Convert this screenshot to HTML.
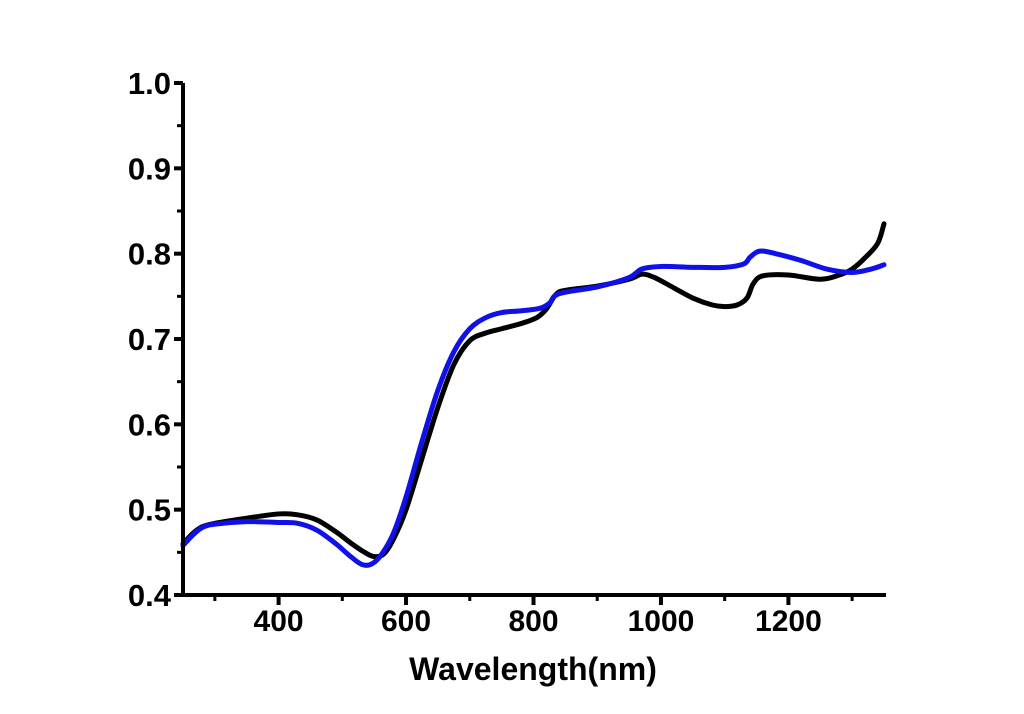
<!DOCTYPE html>
<html><head><meta charset="utf-8"><style>
html,body{margin:0;padding:0;background:#fff;}
svg{display:block;font-family:"Liberation Sans",Arial,sans-serif;}
</style></head><body>
<svg id="chart" width="1024" height="714" viewBox="0 0 1024 714">
<g id="plot"></g>
</svg>
<script>
const xTicks=[400,600,800,1000,1200];
const xMinorTicks=[300,500,700,900,1100,1300];
const yTicks=[0.4,0.5,0.6,0.7,0.8,0.9,1.0];
const yMinorTicks=[0.45,0.55,0.65,0.75,0.85,0.95];
const blackX=[250,265,280,300,350,400,430,460,490,515,535,550,565,580,600,625,650,675,700,725,750,780,805,820,835,850,900,950,970,990,1020,1050,1080,1100,1120,1135,1145,1160,1200,1250,1280,1300,1320,1340,1350];
const blackY=[0.46,0.472,0.48,0.484,0.49,0.495,0.494,0.488,0.474,0.46,0.45,0.445,0.448,0.465,0.5,0.56,0.62,0.67,0.698,0.707,0.712,0.718,0.725,0.735,0.752,0.757,0.762,0.77,0.776,0.772,0.76,0.748,0.74,0.738,0.74,0.748,0.765,0.774,0.775,0.77,0.775,0.782,0.795,0.812,0.835];
const blueX=[250,265,280,300,350,400,430,460,490,510,530,545,560,580,600,625,650,675,700,725,750,780,810,825,840,900,950,970,1000,1050,1100,1130,1140,1155,1180,1220,1260,1300,1330,1350];
const blueY=[0.458,0.47,0.479,0.483,0.486,0.485,0.484,0.476,0.46,0.447,0.436,0.436,0.446,0.472,0.515,0.58,0.64,0.685,0.712,0.725,0.731,0.733,0.736,0.742,0.753,0.761,0.772,0.782,0.785,0.784,0.784,0.788,0.796,0.803,0.8,0.792,0.782,0.778,0.782,0.787];

const NS='http://www.w3.org/2000/svg';
const L=183,R=884,T=83,B=595,X0=250,X1=1350,Y0=0.4,Y1=1.0;
const sx=v=>L+(v-X0)/(X1-X0)*(R-L);
const sy=v=>B-(v-Y0)/(Y1-Y0)*(B-T);
const g=document.getElementById('plot');
function mk(tag,attrs){const e=document.createElementNS(NS,tag);for(const k in attrs)e.setAttribute(k,attrs[k]);g.appendChild(e);return e;}

function smoothPath(xs,ys){
  const p=xs.map((x,i)=>[sx(x),sy(ys[i])]);
  let d='M'+p[0][0]+','+p[0][1];
  for(let i=0;i<p.length-1;i++){
    const p0=p[Math.max(0,i-1)],p1=p[i],p2=p[i+1],p3=p[Math.min(p.length-1,i+2)];
    const c1=[p1[0]+(p2[0]-p0[0])/6,p1[1]+(p2[1]-p0[1])/6];
    const c2=[p2[0]-(p3[0]-p1[0])/6,p2[1]-(p3[1]-p1[1])/6];
    d+=' C'+c1[0]+','+c1[1]+' '+c2[0]+','+c2[1]+' '+p2[0]+','+p2[1];
  }
  return d;
}
function series(xs,ys,color,name){
  const p=mk('path',{d:smoothPath(xs,ys),fill:'none',stroke:color,'stroke-width':5,'stroke-linejoin':'round','stroke-linecap':'round'});
  
  
}
series(blackX,blackY,'#000','black-series-line');
series(blueX,blueY,'#1010e8','blue-series-line');

let a=mk('line',{x1:L,y1:T,x2:L,y2:B+2,stroke:'#000','stroke-width':4});


a=mk('line',{x1:L-9,y1:B,x2:R+2,y2:B,stroke:'#000','stroke-width':4});



xTicks.forEach(v=>{
  const t=mk('line',{x1:sx(v),y1:B,x2:sx(v),y2:B+10,stroke:'#000','stroke-width':4});
  
  
  const l=mk('text',{x:sx(v),y:B+25+7,'text-anchor':'middle','font-size':30,'font-weight':'bold','dominant-baseline':'auto'});
  l.setAttribute('y',B+36);
  l.textContent=v;
  
  
});
xMinorTicks.forEach(v=>{
  const t=mk('line',{x1:sx(v),y1:B,x2:sx(v),y2:B+6,stroke:'#000','stroke-width':3});
  
  
});
yTicks.forEach(v=>{
  const t=mk('line',{x1:L-9,y1:sy(v),x2:L,y2:sy(v),stroke:'#000','stroke-width':4});
  
  
  const l=mk('text',{x:L-12,y:sy(v)+11,'text-anchor':'end','font-size':31,'font-weight':'bold'});
  l.textContent=v.toFixed(1);
  
  
});
yMinorTicks.forEach(v=>{
  const t=mk('line',{x1:L-6,y1:sy(v),x2:L,y2:sy(v),stroke:'#000','stroke-width':3});
  
  
});
const xt=mk('text',{x:533,y:680,'text-anchor':'middle','font-size':32,'font-weight':'bold'});
xt.textContent='Wavelength(nm)';


</script>
</body></html>
